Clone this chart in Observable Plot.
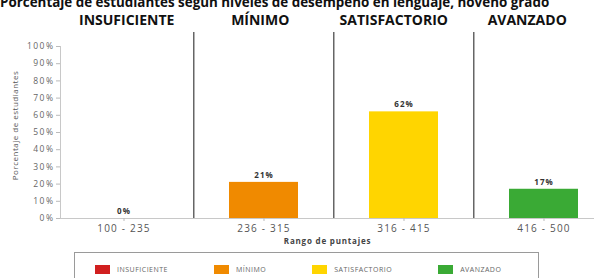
<!DOCTYPE html>
<html>
<head>
<meta charset="utf-8">
<script src="https://cdn.jsdelivr.net/npm/d3@7"></script>
<script src="https://cdn.jsdelivr.net/npm/@observablehq/plot@0.6"></script>
<style>
  html, body { margin: 0; padding: 0; background: #fff; overflow: hidden; }
  body { width: 594px; height: 278px; position: relative; font-family: "Open Sans", sans-serif; }
  #title { position: absolute; top: -7px; left: 0; width: 541px; text-align: center; white-space: nowrap;
           font-size: 13.4px; font-weight: bold; line-height: 18px; color: #111; z-index: 2; }
  #heads { position: absolute; top: 11px; left: 60px; width: 534px; display: flex; z-index: 2;
           font-size: 14px; font-weight: bold; line-height: 18px; color: #111; }
  #heads div { flex: 1 1 0; text-align: center; white-space: nowrap; }
  #chart svg [aria-label="x-axis tick label"] text { letter-spacing: 1.2px; }
  #chart svg [aria-label="y-axis tick label"] text { letter-spacing: 1.5px; }
  #chart svg .vlabel text { letter-spacing: 1px; }
  #chart svg .xtitle text { letter-spacing: 0.8px; }
  #chart svg .ytitle text { letter-spacing: 0.5px; }
  #legend { position: absolute; left: 74px; top: 252px; width: 465px; height: 34px; box-sizing: border-box;
            border: 1px solid #9a9a9a; display: flex; align-items: flex-start; padding-left: 20px; padding-top: 12px; }
  .item { display: flex; align-items: center; margin-right: 46px; }
  .sw { width: 15px; height: 9px; margin-right: 7px; }
  .lt { font-size: 7px; letter-spacing: 0.5px; color: #666; }
</style>
</head>
<body>
<div id="title">Porcentaje de estudiantes según niveles de desempeño en lenguaje, noveno grado</div>
<div id="heads"></div>
<div id="chart"></div>
<div id="legend"></div>
<script>
const ranges = ["100 - 235", "236 - 315", "316 - 415", "416 - 500"];
const levels = ["INSUFICIENTE", "MÍNIMO", "SATISFACTORIO", "AVANZADO"];
const percents = [0, 21, 62, 17];
const colors = ["#d11f1f", "#f08a00", "#ffd500", "#3aaa35"];
const yTicks = [0, 10, 20, 30, 40, 50, 60, 70, 80, 90, 100];

const data = ranges.map((r, i) => ({range: r, level: levels[i], pct: percents[i]}));
const xRange = [52, 614];
const step = (xRange[1] - xRange[0]) / ranges.length;

const chart = Plot.plot({
  width: 594,
  height: 250,
  marginTop: 46,
  marginBottom: 32,
  marginLeft: 60,
  marginRight: 0,
  style: {fontFamily: "'Open Sans', sans-serif", background: "white", overflow: "visible"},
  x: {domain: ranges, range: xRange, paddingInner: 0.51, paddingOuter: 0.255},
  y: {domain: [0, 100]},
  color: {domain: levels, range: colors},
  marks: [
    Plot.ruleY([0], {stroke: "#c8c8c8"}),
    Plot.frame({anchor: "left", stroke: "#c8c8c8"}),
    Plot.ruleX(ranges.slice(1), {x: d => d, stroke: "#666", strokeWidth: 1.5, insetTop: -14, dx: -step / 2}),
    Plot.barY(data, {x: "range", y: "pct", fill: "level"}),
    Plot.text(data, {x: "range", y: "pct", text: d => d.pct + "%", dy: -7, fontWeight: "bold", fontSize: 8, fill: "#333", className: "vlabel"}),
    Plot.axisY({ticks: yTicks, tickFormat: d => d + "%", tickSize: 4, tickPadding: 2, fontSize: 8.5, color: "#666", stroke: "#bbb", label: null}),
    Plot.axisX({anchor: "bottom", tickSize: 3, tickPadding: 3, fontSize: 10, color: "#555", stroke: "#bbb", label: null}),
    Plot.text(["Rango de puntajes"], {frameAnchor: "bottom", dy: 25, fontWeight: "bold", fontSize: 8, fill: "#444", className: "xtitle"}),
    Plot.text(["Porcentaje de estudiantes"], {frameAnchor: "left", textAnchor: "middle", rotate: -90, dx: -45, dy: -7, fontSize: 8, fill: "#555", className: "ytitle"})
  ]
});
document.getElementById("chart").appendChild(chart);

const heads = document.getElementById("heads");
levels.forEach(l => {
  const h = document.createElement("div");
  h.textContent = l;
  heads.appendChild(h);
});

const legend = document.getElementById("legend");
levels.forEach((l, i) => {
  const it = document.createElement("div");
  it.className = "item";
  const sw = document.createElement("div");
  sw.className = "sw";
  sw.style.background = colors[i];
  const lt = document.createElement("span");
  lt.className = "lt";
  lt.textContent = l;
  it.appendChild(sw);
  it.appendChild(lt);
  legend.appendChild(it);
});
</script>
</body>
</html>
